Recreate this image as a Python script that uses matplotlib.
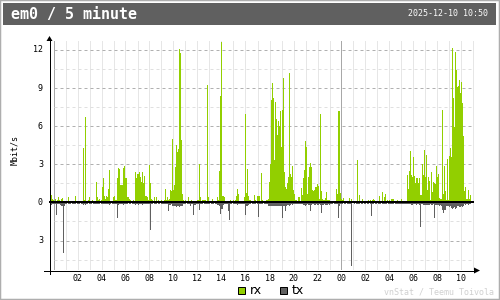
import matplotlib

matplotlib.use("Agg")
import matplotlib.pyplot as plt
import numpy as np
from matplotlib.lines import Line2D
from matplotlib.patches import Polygon, Rectangle

title = "em0 / 5 minute"
stamp = "2025-12-10 10:50"
unit = "Mbit/s"
footer = "vnStat / Teemu Toivola"

# hours from midnight 2025-12-09, first sample at 23:45 of the day before
first_slot = -0.25
slot = 5 / 60

# Mbit/s per 5 minute slot, one row per hour
rx = [
    0.8, 0.6, 0.3, 0.2, 0.1, 0.3, 0.1, 0.2, 0.45, 0.2, 0.1, 0.3,
    0.35, 0.1, 0.1, 0.05, 0.05, 0.1, 0.4, 0.1, 0.1, 0.1, 0.05, 0.1,
    0.1, 0.5, 0.1, 0.1, 0.05, 0.1, 0.1, 0.05, 0.1, 4.3, 0.2, 6.7,
    0.1, 0.1, 0.2, 0.45, 0.1, 0.1, 0.2, 0.1, 0.05, 0.1, 1.6, 0.4,
    0.2, 0.3, 0.1, 0.2, 1.2, 1.9, 0.5, 0.3, 0.5, 0.4, 1.05, 2.55,
    0.1, 0.1, 0.1, 0.4, 0.5, 0.2, 0.2, 1.9, 2.7, 2.6, 1.4, 1.4,
    1.4, 2.7, 2.9, 1.9, 1.9, 0.45, 0.45, 0.3, 0.2, 0.1, 0.1, 0.2,
    0.1, 2.4, 1.9, 2.2, 2.2, 2.4, 2.0, 1.6, 2.4, 1.5, 2.1, 0.5,
    0.5, 0.4, 0.2, 2.95, 1.5, 0.3, 0.2, 0.1, 0.45, 0.1, 0.45, 0.1,
    0.2, 0.1, 0.1, 0.2, 0.1, 0.1, 0.2, 1.05, 0.2, 0.45, 0.2, 0.3,
    1.0, 0.9, 5.0, 1.0, 1.4, 2.8, 4.5, 4.0, 4.2, 12.05, 11.8, 4.9,
    0.65, 0.2, 0.1, 0.2, 0.1, 0.1, 0.45, 0.1, 0.1, 0.2, 0.1, 0.1,
    0.1, 0.1, 0.1, 0.2, 0.2, 3.0, 0.4, 0.1, 0.2, 0.2, 0.2, 0.2,
    0.1, 9.25, 0.4, 0.1, 0.1, 0.1, 0.3, 0.1, 0.1, 0.1, 0.1, 0.4,
    0.2, 2.5, 8.4, 12.65, 0.5, 0.5, 0.45, 0.1, 0.1, 0.1, 0.1, 0.1,
    0.2, 0.1, 0.1, 0.2, 0.1, 0.2, 0.5, 1.05, 0.7, 0.1, 0.1, 0.1,
    0.1, 0.1, 0.4, 7.0, 0.75, 2.6, 0.5, 0.2, 0.2, 0.1, 0.1, 0.1,
    0.55, 0.2, 0.1, 0.5, 0.5, 0.5, 0.1, 2.3, 0.2, 0.1, 0.1, 0.1,
    0.15, 0.15, 0.3, 1.6, 3.0, 8.1, 9.4, 8.2, 3.3, 7.9, 6.6, 5.3,
    6.4, 6.0, 7.2, 4.4, 7.3, 9.8, 2.4, 1.2, 1.05, 1.5, 2.0, 10.2,
    2.2, 2.0, 2.9, 1.0, 0.7, 0.2, 0.2, 0.1, 0.4, 0.4, 0.1, 1.1,
    0.55, 1.95, 2.55, 4.85, 4.35, 0.7, 2.0, 2.75, 3.1, 2.75, 1.0, 0.9,
    1.0, 1.2, 1.25, 1.45, 1.3, 0.25, 7.0, 0.9, 0.25, 0.2, 0.2, 0.35,
    0.85, 0.2, 0.2, 0.2, 0.1, 0.1, 0.1, 0.1, 0.1, 0.1, 1.05, 0.7,
    7.2, 7.2, 0.75, 0.3, 0.2, 0.35, 0.1, 0.1, 0.1, 0.1, 0.1, 0.35,
    0.1, 0.25, 0.1, 0.1, 0.1, 0.1, 0.1, 3.35, 0.1, 0.6, 0.1, 0.1,
    0.25, 0.1, 0.1, 0.1, 0.05, 0.1, 0.15, 0.1, 0.2, 0.1, 0.15, 0.25,
    0.15, 0.05, 0.05, 0.1, 0.1, 0.5, 0.1, 0.1, 0.8, 0.1, 0.45, 0.65,
    0.1, 0.2, 0.1, 0.15, 0.1, 0.3, 0.3, 0.3, 0.1, 0.1, 0.1, 0.15,
    0.1, 0.1, 0.1, 0.3, 0.1, 0.1, 0.1, 0.1, 0.1, 2.15, 1.05, 2.5,
    4.05, 2.15, 2.0, 3.6, 2.1, 1.55, 1.95, 1.95, 1.55, 1.95, 0.55, 0.6,
    3.0, 2.15, 4.15, 2.0, 3.7, 1.0, 2.0, 1.7, 0.2, 2.4, 0.8, 1.6,
    1.5, 1.45, 2.9, 2.0, 2.25, 0.35, 0.3, 0.3, 7.25, 0.7, 2.85, 0.9,
    0.2, 3.4, 0.2, 3.65, 4.3, 3.6, 12.15, 8.2, 5.9, 11.85, 10.45, 9.1,
    9.2, 9.6, 8.65, 9.45, 7.8, 5.25, 0.9, 1.25, 0.25, 0.3, 1.0, 0.3,
    0.6,
]
tx = [
    0.15, 0.2, 0.15, 0.1, 0.1, 0.1, 1.0, 0.1, 0.1, 0.1, 0.2, 0.3,
    0.3, 4.0, 0.25, 0.1, 0.1, 0.05, 0.1, 0.1, 0.1, 0.05, 0.1, 0.1,
    0.1, 0.1, 0.05, 0.1, 0.1, 0.1, 0.05, 0.1, 0.1, 0.2, 0.1, 0.2,
    0.1, 0.1, 0.05, 0.1, 0.1, 0.1, 0.05, 0.1, 0.1, 0.1, 0.15, 0.1,
    0.1, 0.1, 0.05, 0.1, 0.15, 0.15, 0.1, 0.1, 0.1, 0.1, 0.15, 0.2,
    0.1, 0.05, 0.1, 0.1, 0.1, 0.1, 0.1, 1.25, 0.2, 0.15, 0.1, 0.1,
    0.15, 0.2, 0.15, 0.1, 0.1, 0.1, 0.05, 0.1, 0.1, 0.05, 0.1, 0.1,
    0.1, 0.2, 0.15, 0.15, 0.2, 0.15, 0.1, 0.15, 0.2, 0.1, 0.15, 0.1,
    0.1, 0.1, 0.1, 0.15, 2.2, 0.1, 0.1, 0.05, 0.1, 0.1, 0.1, 0.05,
    0.1, 0.1, 0.05, 0.1, 0.1, 0.1, 0.1, 0.15, 0.1, 0.15, 0.7, 0.2,
    0.2, 0.15, 0.3, 0.25, 0.3, 0.3, 0.35, 0.3, 0.3, 0.35, 0.3, 0.3,
    0.3, 0.1, 0.1, 0.1, 0.05, 0.1, 0.1, 0.1, 0.3, 0.1, 0.1, 1.0,
    0.2, 0.2, 0.1, 0.1, 0.1, 0.6, 0.15, 0.1, 0.1, 0.05, 0.1, 0.1,
    0.1, 0.15, 0.1, 0.1, 0.05, 0.1, 0.1, 0.1, 0.05, 0.1, 0.1, 0.2,
    0.2, 0.3, 0.9, 0.55, 0.55, 0.2, 0.1, 0.1, 0.1, 0.1, 0.65, 1.35,
    0.1, 0.1, 0.05, 0.1, 0.1, 0.1, 0.15, 0.2, 0.15, 0.1, 0.15, 0.15,
    0.15, 0.1, 0.15, 1.0, 0.3, 0.25, 0.2, 0.1, 0.1, 0.05, 0.1, 0.1,
    0.1, 0.1, 0.05, 0.1, 1.15, 0.1, 0.1, 0.15, 0.1, 0.05, 0.1, 0.1,
    0.1, 0.15, 0.25, 0.25, 0.3, 0.25, 0.3, 0.25, 0.3, 0.25, 0.3, 0.25,
    0.3, 0.25, 0.3, 0.25, 1.25, 0.3, 0.3, 0.65, 0.3, 0.2, 0.2, 0.25,
    0.2, 0.15, 0.2, 0.15, 0.15, 0.1, 0.1, 0.15, 0.1, 0.1, 0.15, 0.15,
    0.15, 0.2, 0.2, 0.25, 0.2, 0.15, 0.2, 0.2, 0.65, 0.2, 0.15, 0.15,
    0.2, 0.2, 0.15, 0.2, 0.2, 0.15, 0.2, 0.8, 0.2, 0.2, 0.15, 0.2,
    0.2, 0.2, 0.15, 0.2, 0.1, 0.1, 0.1, 0.05, 0.1, 0.1, 0.15, 0.15,
    1.2, 0.25, 0.1, 0.1, 0.1, 0.05, 0.1, 0.1, 0.05, 0.1, 0.1, 0.1,
    0.1, 5.0, 0.05, 0.05, 0.1, 0.05, 0.1, 0.15, 0.1, 0.1, 0.05, 0.1,
    0.1, 0.05, 0.1, 0.1, 0.05, 0.1, 0.1, 0.05, 0.1, 1.1, 0.1, 0.1,
    0.05, 0.1, 0.1, 0.05, 0.1, 0.1, 0.1, 0.05, 0.1, 0.1, 0.1, 0.1,
    0.1, 0.05, 0.1, 0.1, 0.1, 0.1, 0.1, 0.1, 0.05, 0.1, 0.15, 0.1,
    0.15, 0.1, 0.15, 0.1, 0.15, 0.1, 0.15, 0.1, 0.15, 0.15, 0.15, 0.15,
    0.15, 0.2, 0.2, 0.15, 0.15, 0.15, 0.2, 0.15, 0.15, 0.2, 1.9, 0.15,
    0.15, 0.2, 0.2, 0.2, 0.2, 0.2, 0.2, 0.2, 0.15, 0.2, 0.2, 0.15,
    1.2, 0.2, 0.2, 0.2, 0.2, 0.25, 0.2, 0.25, 0.6, 0.85, 0.6, 0.6,
    0.3, 0.3, 0.3, 0.35, 0.3, 0.45, 0.5, 0.45, 0.4, 0.5, 0.45, 0.3,
    0.3, 0.35, 0.4, 0.3, 0.35, 0.3, 0.15, 0.2, 0.15, 0.15, 0.2, 0.15,
    0.15,
]

ytick_vals = [12, 9, 6, 3, 0, -3]
ytick_labels = ["12", "9", "6", "3", "0", "3"]
minor_lines = [10.5, 7.5, 4.5, 1.5, -1.5, -4.5]
hour_ticks = list(range(2, 35, 2))
hour_labels = [f"{h % 24:02d}" for h in hour_ticks]

RX_COLOR = "#92cf00"
TX_COLOR = "#606060"
MONO = "DejaVu Sans Mono"
W, H = 500, 300
PX = 0.72  # one pixel in points


def fx(px):
    return px / W


def fy(py):
    return 1 - py / H


fig = plt.figure(figsize=(5, 3), dpi=100, facecolor="white")

# frame and header bar
fig.add_artist(Rectangle((0, 0), 1, 1, transform=fig.transFigure, fill=False,
                         edgecolor="#aeaeae", lw=2.5 * PX))
fig.add_artist(Rectangle((fx(3), fy(25)), fx(496) - fx(3), fy(3) - fy(25),
                         transform=fig.transFigure, facecolor="#606060", lw=0))
fig.text(fx(11), fy(14.5), title, color="white", fontsize=10.8,
         fontweight="bold", family=MONO, ha="left", va="center")
fig.text(fx(488), fy(14), stamp, color="white", fontsize=6, family=MONO,
         ha="right", va="center")

ax = fig.add_axes([fx(49), fy(270), 425 / W, (270 - 41) / H])
ax.set_xlim(-4 / 12, 421 / 12)
ax.set_ylim(-(270 - 202.4) / 12.7, (202.4 - 41) / 12.7)
ax.set_axis_off()

x_end = 421 / 12
for h in range(0, 36):
    color = "#a8a8a8" if h % 24 == 0 else "#e6e6e6"
    ax.axvline(h + 1 / 24, color=color, lw=PX, zorder=1)
ax.hlines(minor_lines, 1 / 24, x_end, colors="#e0e0e0", lw=PX,
          linestyles=[(0, (3, 3))], zorder=1.2)
ax.hlines([v for v in ytick_vals if v != 0], 1 / 24, x_end, colors="#b0b0b0",
          lw=PX, linestyles=[(0, (3, 3))], zorder=1.3)

hours = first_slot + np.arange(len(rx)) * slot
ax.bar(hours, rx, width=slot, align="edge", color=RX_COLOR, lw=0, zorder=2)
ax.bar(hours, -np.array(tx), width=slot, align="edge", color=TX_COLOR, lw=0,
       zorder=2)
ax.axhline(0, color="black", lw=2 * PX, zorder=3)

for v, lab in zip(ytick_vals, ytick_labels):
    ax.text(-6 / 425, v, lab, transform=ax.get_yaxis_transform(), ha="right",
            va="center", fontsize=6, family=MONO)
for h, lab in zip(hour_ticks, hour_labels):
    ax.text(h + 1 / 24, -8.5 / 229, lab, transform=ax.get_xaxis_transform(),
            ha="center", va="center", fontsize=6, family=MONO)

# axes with arrow heads
fig.add_artist(Line2D([fx(49.5), fx(49.5)], [fy(274), fy(39)], color="black",
                      lw=PX))
fig.add_artist(Line2D([fx(44), fx(476)], [fy(270.5), fy(270.5)], color="black",
                      lw=PX))
fig.add_artist(Polygon([(fx(49.5), fy(36)), (fx(46.5), fy(41)), (fx(52.5), fy(41))],
                       closed=True, transform=fig.transFigure, color="black", lw=0))
fig.add_artist(Polygon([(fx(480), fy(270.5)), (fx(474), fy(267.5)), (fx(474), fy(273.5))],
                       closed=True, transform=fig.transFigure, color="black", lw=0))

fig.text(fx(14.5), fy(150), unit, rotation=90, fontsize=6, family=MONO,
         ha="center", va="center")

# legend
for left, color, name in [(238, RX_COLOR, "rx"), (280, TX_COLOR, "tx")]:
    fig.add_artist(Rectangle((fx(left), fy(293.5)), 7 / W, 7 / H,
                             transform=fig.transFigure, facecolor=color,
                             edgecolor="black", lw=PX))
    fig.text(fx(left + 12), fy(293.5), name, fontsize=9, family="DejaVu Sans",
             ha="left", va="baseline")

fig.text(fx(494), fy(292), footer, color="#d0d0d0", fontsize=6, family=MONO,
         ha="right", va="center")

fig.savefig("out.png", dpi=100, facecolor="white")
plt.close(fig)
